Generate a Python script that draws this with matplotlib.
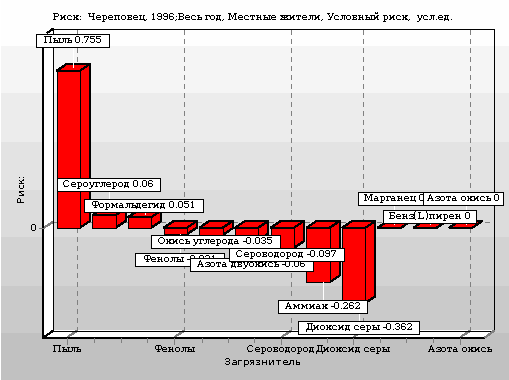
import matplotlib
matplotlib.use("Agg")
import matplotlib.pyplot as plt
from matplotlib.patches import Rectangle, Polygon

plt.rcParams['text.antialiased'] = False
plt.rcParams['text.hinting'] = 'native'
plt.rcParams['text.hinting_factor'] = 1

# ---- data ----
pollutants = ["Пыль", "Сероуглерод", "Формальдегид", "Фенолы", "Окись углерода",
              "Азота двуокись", "Сероводород", "Аммиак", "Диоксид серы",
              "Марганец", "Бенз(L)пирен", "Азота окись"]
risk = [0.755, 0.06, 0.051, -0.031, -0.035, -0.06, -0.097, -0.262, -0.362, 0, 0, 0]
value_labels = ["0.755", "0.06", "0.051", "-0.031", "-0.035", "-0.06", "-0.097",
                "-0.262", "-0.362", "0", "0", "0"]
x_tick_labels = {0: "Пыль", 3: "Фенолы", 6: "Сероводород", 8: "Диоксид серы", 11: "Азота окись"}
title = "Риск:  Череповец, 1996;Весь год, Местные жители, Условный риск,  усл.ед."

# ---- layout (pixels) ----
W, H = 509, 380
X0, X_STEP = 68.3, 35.68
ZERO, PX_UNIT = 227.7, 208.0
BAR_W, DX, DY = 23.3, 10.0, 6.7
LW = 0.72
# label boxes: left, right, top, bottom; drawn in this order
boxes = {0: (36.5, 109.5, 33.5, 46.5), 1: (57.5, 160.5, 177.5, 190.5), 2: (84.5, 203.5, 198.5, 211.5),
         4: (151.5, 280.5, 234.5, 247.5), 3: (135.5, 224.5, 252.5, 265.5), 5: (190.5, 313.5, 257.5, 270.5),
         6: (229.5, 344.5, 247.5, 260.5), 7: (278.5, 367.5, 299.5, 312.5), 8: (298.5, 419.5, 320.5, 333.5),
         9: (358.5, 431.5, 191.5, 204.5), 11: (423.5, 503.5, 191.5, 204.5), 10: (383.5, 476.5, 209.5, 222.5)}
minor_ticks = [94.3, 120.7, 147.3, 201.7, 228, 254.5, 326.7, 380, 406.5, 433.3]
major_ticks = [67.5, 174.5, 281.5, 353.5, 460.5]
bands = [(0, 46, '#fefefe'), (46, 93, '#f5f5f5'), (93, 142, '#ececec'), (142, 190, '#e3e3e3'),
         (190, 237, '#dcdcdc'), (237, 286, '#d3d3d3'), (286, 333, '#cacaca'), (333, 380, '#c1c1c1')]
SERIF = ['DejaVu Serif']
SANS = ['DejaVu Sans']
FS = 7.0

fig = plt.figure(figsize=(W / 100, H / 100), dpi=100)
bg = fig.add_axes([0, 0, 1, 1])
bg.set_xlim(0, W); bg.set_ylim(H, 0); bg.axis('off')
ax = fig.add_axes([0, 0, 1, 1])
ax.patch.set_alpha(0)
ax.set_xlim(-X0 / X_STEP, (W - X0) / X_STEP)
ax.set_ylim((ZERO - H) / PX_UNIT, ZERO / PX_UNIT)
ax.axis('off')
fg = fig.add_axes([0, 0, 1, 1])
fg.patch.set_alpha(0)
fg.set_xlim(0, W); fg.set_ylim(H, 0); fg.axis('off')

def pxline(a, xs, ys, c='k', lw=LW, **kw):
    a.plot(xs, ys, color=c, lw=lw, antialiased=False, solid_capstyle='butt', **kw)

# background
for t, b, c in bands:
    bg.add_patch(Rectangle((1, t), W, b - t, fc=c, ec='none', aa=False))
bg.add_patch(Polygon([(44, 35), (53.5, 28.5), (53.5, 330.5), (44, 337)], fc='white', ec='none', aa=False))
bg.add_patch(Polygon([(44, 337), (53.5, 330.5), (494.5, 330.5), (485, 337)], fc='white', ec='none', aa=False))
# gridlines and zero line
for x in major_ticks:
    bg.plot([x + 10, x + 10], [30, 330], color='#808080', lw=LW, ls=(0, (5, 5)), aa=False)
    pxline(bg, [x, x + 10], [337, 330.5], c='#808080')
bg.plot([53.5, 494], [221.5, 221.5], color='#808080', lw=LW, ls=(0, (5, 5)), aa=False)
pxline(bg, [43.5, 53.5], [228, 221.5], c='#808080')
# walls
pxline(bg, [53.5, 494.5, 494.5], [28.5, 28.5, 330.5])
pxline(bg, [53.5, 53.5, 494.5], [28.5, 330.5, 330.5])
pxline(bg, [47, 53.5], [33, 28.5])
pxline(bg, [43.5, 43.5], [46, 338.5], lw=1.44)
pxline(bg, [43, 485], [337.5, 337.5], lw=1.44)
pxline(bg, [43.5, 53.5], [337.5, 330.5])
pxline(bg, [485, 494.5], [337.5, 330.5], c='#808080')
for x in minor_ticks:
    pxline(bg, [x, x], [338, 342], c='#808080')
for x in major_ticks:
    pxline(bg, [x, x], [338, 344], c='#808080')
pxline(bg, [39, 43], [228, 228], c='#808080')

# bars
half = BAR_W / 2 / X_STEP
dx, dy = DX / X_STEP, DY / PX_UNIT
for i, v in enumerate(risk):
    top, bot = max(v, 0), min(v, 0)
    l, r = i - half, i + half
    ax.add_patch(Polygon([(l, top), (r, top), (r + dx, top + dy), (l + dx, top + dy)],
                         fc='#ff0000', ec='k', lw=LW, aa=False, zorder=2 + i))
    if v != 0:
        ax.add_patch(Polygon([(r, top), (r + dx, top + dy), (r + dx, bot + dy), (r, bot)],
                             fc='#ff0000', ec='k', lw=LW, aa=False, zorder=2 + i))
        ax.add_patch(Rectangle((l, bot), r - l, top - bot, fc='#ff0000', ec='k', lw=LW, aa=False, zorder=2 + i))

# white leader lines from each bar to its label
for i, v in enumerate(risk):
    x = i + dx / 2
    y = v + dy / 2 if v >= 0 else v
    l, r, t, b = boxes[i]
    yb = (ZERO - (b if v >= 0 else t)) / PX_UNIT
    ax.plot([x, x], [y, yb], color='white', lw=LW, aa=False, zorder=30)

# labels
for n, (i, (l, r, t, b)) in enumerate(boxes.items()):
    fg.add_patch(Rectangle((l, t), r - l, b - t, fc='white', ec='k', lw=LW, aa=False, zorder=2 + n))
    fg.text((l + r) / 2, (t + b) / 2, f"{pollutants[i]} {value_labels[i]}", ha='center', va='center',
            family=SERIF, fontsize=FS, zorder=2 + n)

# text
fg.text(253, 17.5, title, ha='center', va='center', family=SERIF, fontsize=FS)
for i, s in x_tick_labels.items():
    fg.text(X0 + X_STEP * i - 1, 349.5, s, ha='center', va='center', family=SERIF, fontsize=FS)
fg.text(263, 362, "Загрязнитель", ha='center', va='center', family=SANS, fontsize=7)
fg.text(21.5, 188, "Риск:", ha='center', va='center', rotation=90, family=SANS, fontsize=7)
fg.text(33.5, 228, "0", ha='center', va='center', family=SANS, fontsize=7)

fig.savefig("out.png", dpi=100)
